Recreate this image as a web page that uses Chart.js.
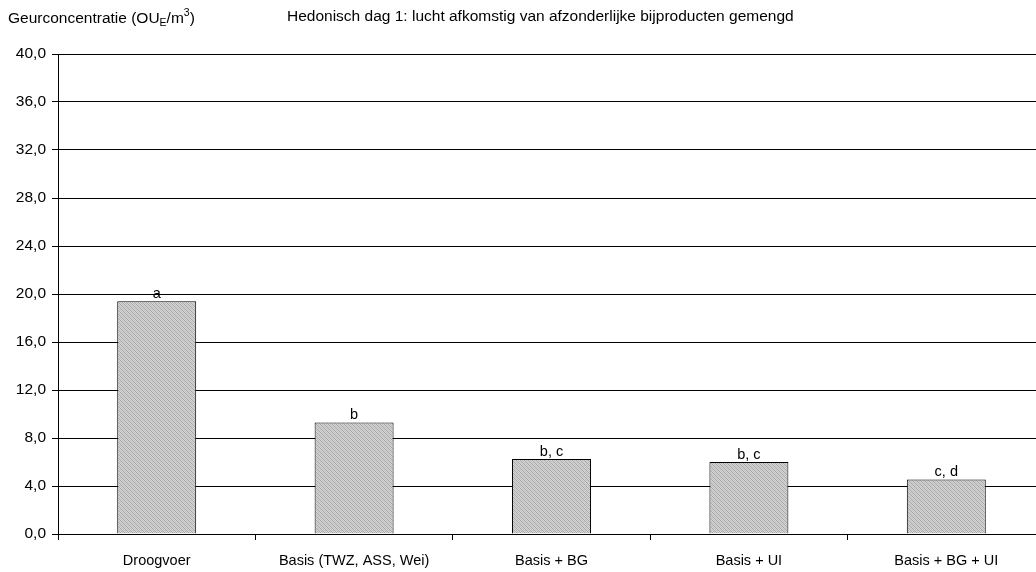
<!DOCTYPE html>
<html>
<head>
<meta charset="utf-8">
<script src="https://cdn.jsdelivr.net/npm/chart.js@4"></script>
<style>
  html, body { margin: 0; padding: 0; background: #fff; overflow: hidden; }
  #wrap { width: 1045px; height: 572px; }
</style>
</head>
<body>
<div id="wrap"><canvas id="chart" width="1045" height="572"></canvas></div>
<script>
// categorieën en waarden (OU_E/m3)
const categories = ['Droogvoer', 'Basis (TWZ, ASS, Wei)', 'Basis + BG', 'Basis + UI', 'Basis + BG + UI'];
const values = [19.4, 9.3, 6.25, 6.0, 4.55];
const letters = ['a', 'b', 'b, c', 'b, c', 'c, d'];
const FONT = '"Liberation Sans", Arial, sans-serif';

// grijs arceringspatroon voor de staven
function makePattern() {
    const c = document.createElement('canvas');
    c.width = 4; c.height = 4;
    const g = c.getContext('2d');
    g.fillStyle = '#d4d4d4';
    g.fillRect(0, 0, 4, 4);
    g.fillStyle = '#a6a6a6';
    for (let i = 0; i < 4; i++) {
        g.fillRect(i, i, 1, 1);
    }
    g.fillStyle = '#c0c0c0';
    for (let i = 0; i < 4; i++) {
        g.fillRect((i + 2) % 4, i, 1, 1);
    }
    return g.createPattern(c, 'repeat');
}

// titels boven de grafiek, met sub- en superscript
const titlePlugin = {
    id: 'titles',
    afterDraw(chart) {
        const ctx = chart.ctx;
        ctx.save();
        ctx.fillStyle = '#000';
        ctx.textBaseline = 'alphabetic';
        ctx.textAlign = 'left';
        let x = 8, y = 23;
        const parts = [
            ['Geurconcentratie (OU', 15.5, 0],
            ['E', 10.5, 3],
            ['/m', 15.5, 0],
            ['3', 10.5, -7],
            [')', 15.5, 0]
        ];
        parts.forEach(([t, s, dy]) => {
            ctx.font = s + 'px ' + FONT;
            ctx.fillText(t, x, y + dy);
            x += ctx.measureText(t).width;
        });
        ctx.font = '15.5px ' + FONT;
        ctx.fillText('Hedonisch dag 1: lucht afkomstig van afzonderlijke bijproducten gemengd', 287, 21);

        // letters boven de staven
        ctx.font = '14.5px ' + FONT;
        ctx.textAlign = 'center';
        const meta = chart.getDatasetMeta(0);
        meta.data.forEach((bar, i) => {
            ctx.fillText(letters[i], bar.x, bar.y - 3);
        });
        ctx.restore();
    }
};

new Chart(document.getElementById('chart'), {
    type: 'bar',
    data: {
        labels: categories,
        datasets: [{
            data: values,
            backgroundColor: makePattern(),
            borderColor: '#000',
            borderWidth: 1,
            barPercentage: 0.4,
            categoryPercentage: 1.0
        }]
    },
    options: {
        responsive: false,
        animation: false,
        layout: { padding: { top: 54, left: 0, right: 0, bottom: 0 } },
        plugins: { legend: { display: false }, tooltip: { enabled: false } },
        scales: {
            x: {
                offset: true,
                grid: { display: true, drawOnChartArea: false, drawTicks: true, tickLength: 6, offset: true, color: '#000' },
                border: { display: true, color: '#000', width: 1 },
                ticks: { color: '#000', font: { family: FONT, size: 14.5 }, padding: 12, maxRotation: 0 },
                afterFit(scale) { scale.height = 38; }
            },
            y: {
                min: 0,
                max: 40,
                ticks: {
                    stepSize: 4,
                    color: '#000',
                    padding: 6,
                    font: { family: FONT, size: 15.5 },
                    callback: v => v.toFixed(1).replace('.', ',')
                },
                grid: { color: '#000', lineWidth: 1, tickLength: 6 },
                border: { display: true, color: '#000', width: 1 },
                afterFit(scale) { scale.width = 58; }
            }
        }
    },
    plugins: [titlePlugin]
});
</script>
</body>
</html>
